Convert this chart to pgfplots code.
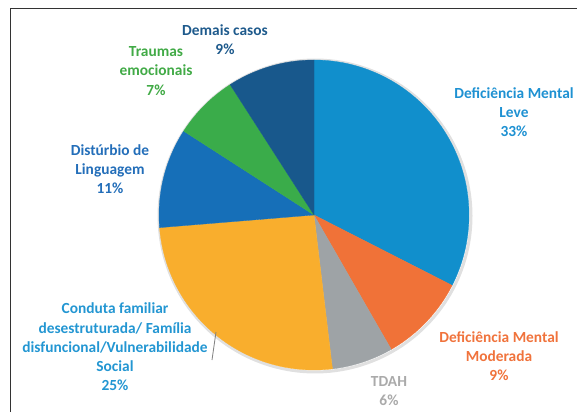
\documentclass[border=0pt]{standalone}
\usepackage{pgfplots}
\pgfplotsset{compat=1.18}
\usepackage{pgfplotstable}
\usepackage{fontspec}
\setmainfont{Carlito}
\definecolor{cLeve}{RGB}{17,143,204}
\definecolor{cMod}{RGB}{240,114,56}
\definecolor{cTDAH}{RGB}{158,163,166}
\definecolor{cCond}{RGB}{249,174,45}
\definecolor{cLing}{RGB}{22,111,184}
\definecolor{cTrau}{RGB}{58,172,74}
\definecolor{cDem}{RGB}{24,88,140}
\definecolor{tDem}{RGB}{30,90,140}
\definecolor{tTrau}{RGB}{65,170,70}
\definecolor{tLing}{RGB}{35,110,185}
\definecolor{tCond}{RGB}{35,150,210}
\definecolor{tLeve}{RGB}{30,145,210}
\definecolor{tMod}{RGB}{240,115,60}
\definecolor{tTDAH}{RGB}{170,170,170}
\tikzset{lab/.style={font=\bfseries\fontsize{15.4}{19.2}\selectfont, align=center, inner sep=0pt}}
\pgfplotstableread{
label pct
Leve 32.5
Moderada 9.2
TDAH 6.4
Conduta 25.6
Linguagem 10.4
Traumas 6.8
Demais 9.1
}\piedata
\begin{document}
\begin{tikzpicture}
\pgfplotstablegetelem{0}{pct}\of\piedata \pgfmathsetmacro\eA{90-3.6*\pgfplotsretval}
\pgfplotstablegetelem{1}{pct}\of\piedata \pgfmathsetmacro\eB{\eA-3.6*\pgfplotsretval}
\pgfplotstablegetelem{2}{pct}\of\piedata \pgfmathsetmacro\eC{\eB-3.6*\pgfplotsretval}
\pgfplotstablegetelem{3}{pct}\of\piedata \pgfmathsetmacro\eD{\eC-3.6*\pgfplotsretval}
\pgfplotstablegetelem{4}{pct}\of\piedata \pgfmathsetmacro\eE{\eD-3.6*\pgfplotsretval}
\pgfplotstablegetelem{5}{pct}\of\piedata \pgfmathsetmacro\eF{\eE-3.6*\pgfplotsretval}
\pgfplotstablegetelem{6}{pct}\of\piedata \pgfmathsetmacro\eG{\eF-3.6*\pgfplotsretval}
\begin{axis}[at={(0,0)}, anchor=south west, width=577pt, height=412pt, scale only axis,
  xmin=0, xmax=577, ymin=0, ymax=412, enlargelimits=false, hide axis, clip=false]
\coordinate (bl) at (axis cs:0,0);
\coordinate (tr) at (axis cs:577,412);
% shadow
\addplot[draw=black!12, line width=3pt, domain=0:360, samples=180, forget plot] ({315+156*cos(x)},{196+156*sin(x)});
\addplot[fill=cLeve, draw=cLeve, line width=0.3pt, domain=\eA:90, samples=80] ({314+155*cos(x)},{197+155*sin(x)}) -- (axis cs:314,197) -- cycle;
\addplot[fill=cMod, draw=cMod, line width=0.3pt, domain=\eB:\eA, samples=40] ({314+155*cos(x)},{197+155*sin(x)}) -- (axis cs:314,197) -- cycle;
\addplot[fill=cTDAH, draw=cTDAH, line width=0.3pt, domain=\eC:\eB, samples=40] ({314+155*cos(x)},{197+155*sin(x)}) -- (axis cs:314,197) -- cycle;
\addplot[fill=cCond, draw=cCond, line width=0.3pt, domain=\eD:\eC, samples=80] ({314+155*cos(x)},{197+155*sin(x)}) -- (axis cs:314,197) -- cycle;
\addplot[fill=cLing, draw=cLing, line width=0.3pt, domain=\eE:\eD, samples=40] ({314+155*cos(x)},{197+155*sin(x)}) -- (axis cs:314,197) -- cycle;
\addplot[fill=cTrau, draw=cTrau, line width=0.3pt, domain=\eF:\eE, samples=40] ({314+155*cos(x)},{197+155*sin(x)}) -- (axis cs:314,197) -- cycle;
\addplot[fill=cDem, draw=cDem, line width=0.3pt, domain=\eG:\eF, samples=40] ({314+155*cos(x)},{197+155*sin(x)}) -- (axis cs:314,197) -- cycle;
% leader line
\addplot[draw=gray, line width=0.8pt] coordinates {(212,52) (216,80)};
% frame
\addplot[draw=black!80, line width=1pt] coordinates {(10,0) (10,403) (577,403)};
% labels
\node[lab, text=tDem] at (axis cs:225,372) {Demais casos\\9\%};
\node[lab, text=tTrau] at (axis cs:156,341) {Traumas\\emocionais\\7\%};
\node[lab, text=tLing] at (axis cs:110,243) {Distúrbio de\\Linguagem\\11\%};
\node[lab, text=tCond] at (axis cs:115,65) {Conduta familiar\\desestruturada/ Família\\disfuncional/Vulnerabilidade\\Social\\25\%};
\node[lab, text=tLeve] at (axis cs:514,300) {Deficiência Mental\\Leve\\33\%};
\node[lab, text=tMod] at (axis cs:499,56) {Deficiência Mental\\Moderada\\9\%};
\node[lab, text=tTDAH] at (axis cs:389,21) {TDAH\\6\%};
\end{axis}
\pgfresetboundingbox
\path[use as bounding box] (bl) rectangle (tr);
\end{tikzpicture}
\end{document}
